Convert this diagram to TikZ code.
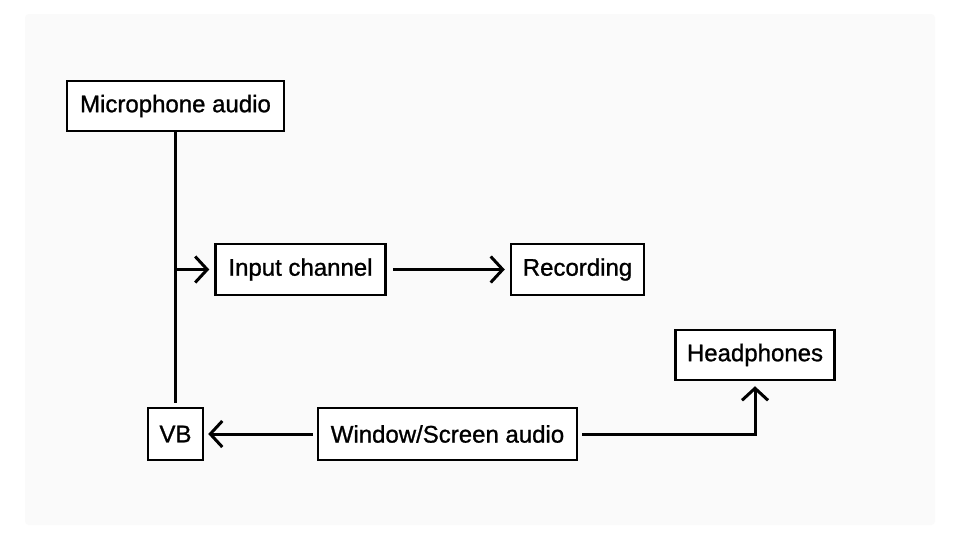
\documentclass[tikz,border=0pt]{standalone}
\usepackage{fontspec}
\setmainfont{Liberation Sans}
\newfontfamily\lblfont[FakeBold=1.0]{Liberation Sans}
\usetikzlibrary{arrows.meta}
\begin{document}
\begin{tikzpicture}[x=1pt,y=-1pt,
  box/.style={draw=black,line width=2.5pt,fill=white,inner sep=0pt,font=\lblfont\fontsize{24}{27}\selectfont},
  conn/.style={line width=3pt,-{Straight Barb[length=12pt,width=26pt,line width=3pt]}},
  plain/.style={line width=3pt}]
\useasboundingbox (0,0) rectangle (960,541);
\fill[white] (0,0) rectangle (960,541);
\fill[fill={rgb,255:red,250;green,250;blue,250},rounded corners=4pt] (25,14) rectangle (935,525);
\node[box,minimum width=217pt,minimum height=50pt] (mic) at (175.5,106) {Microphone audio};
\node[box,minimum width=170pt,minimum height=51pt] (inp) at (300.5,269.5) {Input channel};
\node[box,minimum width=133pt,minimum height=51pt] (rec) at (577.5,269.5) {Recording};
\node[box,minimum width=159pt,minimum height=50pt] (head) at (755,355) {Headphones};
\node[box,minimum width=55pt,minimum height=52pt] (vb) at (175.5,434) {VB};
\node[box,minimum width=259pt,minimum height=52pt] (win) at (447.5,434) {Window/Screen audio};
\coordinate (br) at (mic.south |- inp.west);
\coordinate (corner) at (head.south |- win.east);
\draw[plain,shorten <=-1pt,shorten >=4pt] (mic.south) -- (vb.north);
\draw[conn,shorten >=5pt] (br) -- (inp.west);
\draw[conn,shorten <=6pt,shorten >=5pt] (inp.east) -- (rec.west);
\draw[conn,shorten <=4pt,shorten >=4pt] (win.west) -- (vb.east);
\draw[conn,shorten <=4pt,shorten >=5pt,line join=miter] (win.east) -- (corner) -- (head.south);
\end{tikzpicture}
\end{document}
